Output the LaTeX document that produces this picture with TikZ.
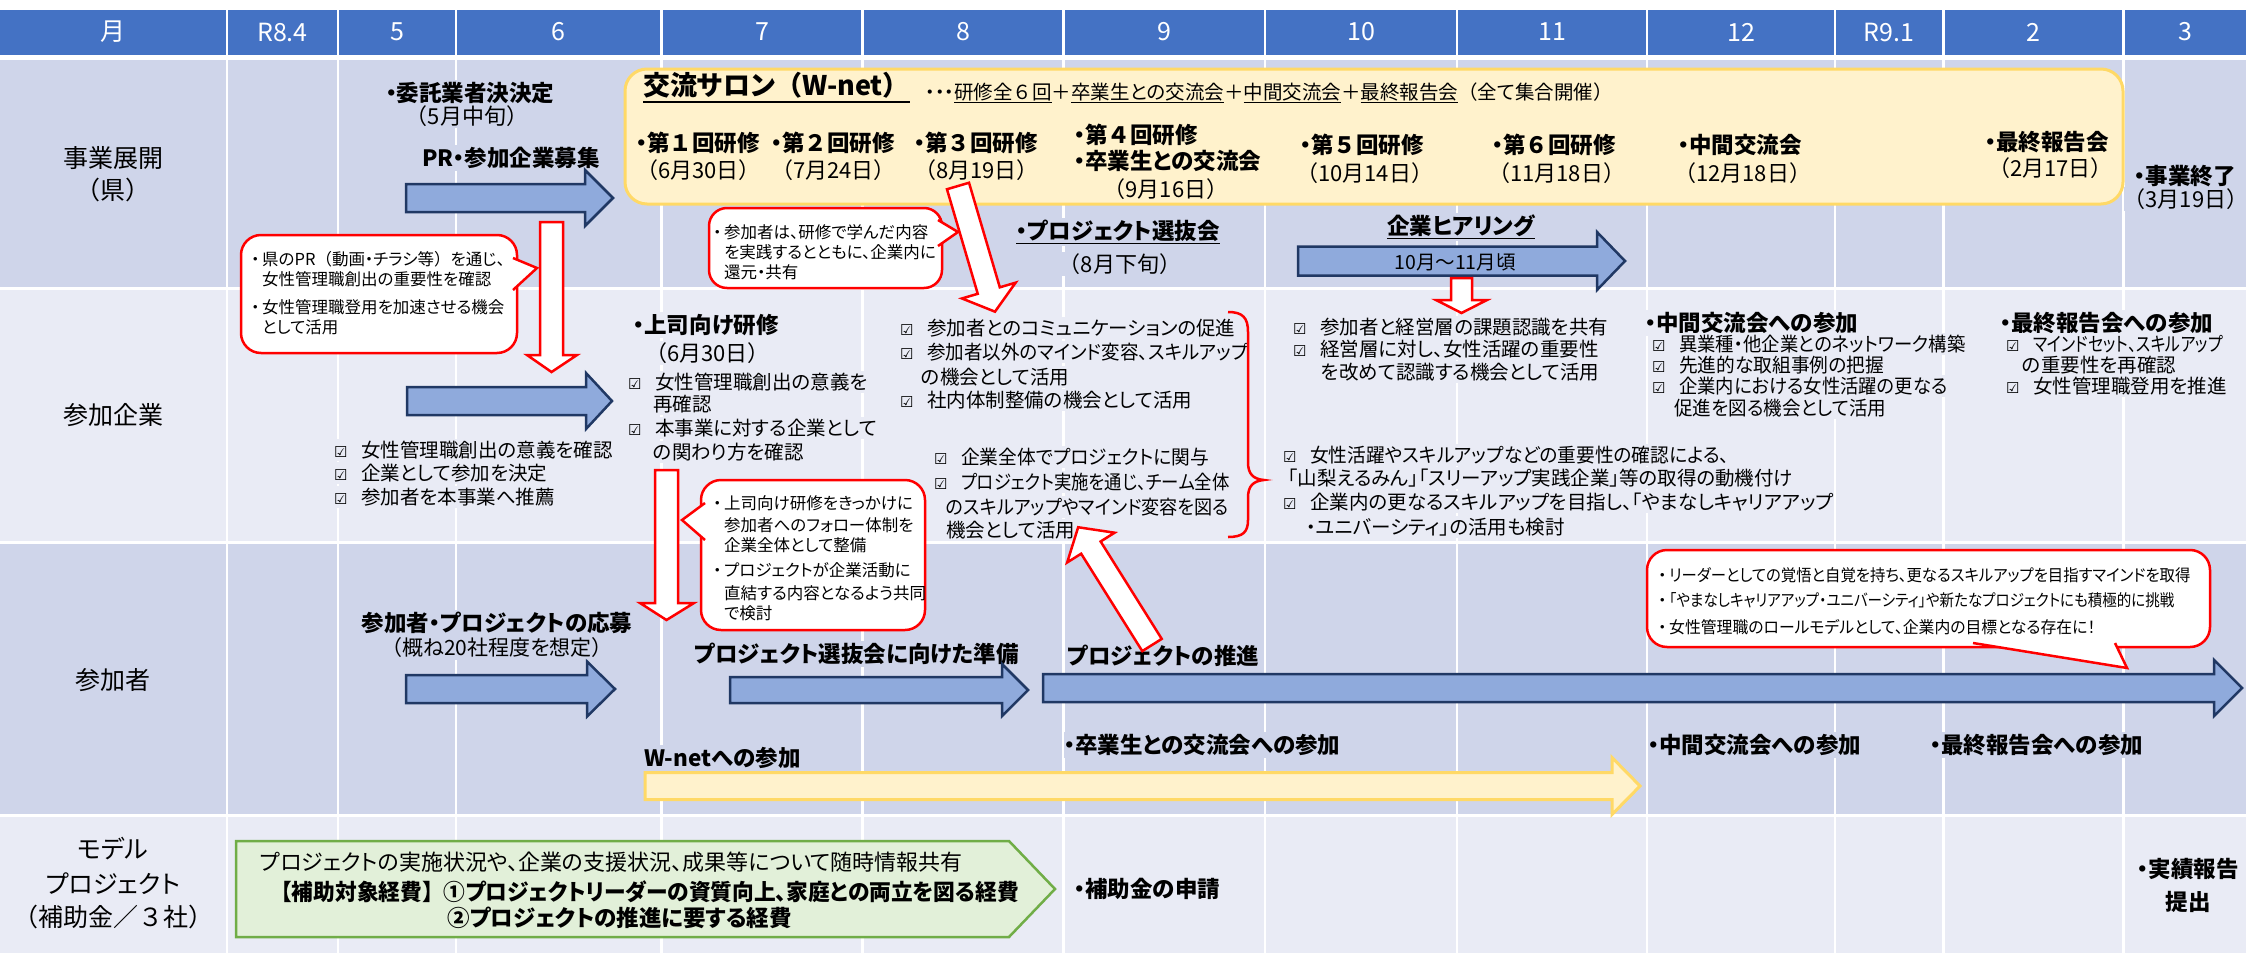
\documentclass[tikz,border=0pt]{standalone}
\usepackage{graphicx}
\usepackage{fontspec}
\setmainfont{Noto Sans CJK JP}[RawFeature={+palt}]
\newfontfamily\np{Noto Sans CJK JP}
\newfontfamily\dejavu{DejaVu Sans}
\usetikzlibrary{calc}
\definecolor{hdr}{HTML}{4472C4}
\definecolor{rowA}{HTML}{CFD5EA}
\definecolor{rowB}{HTML}{E9EBF5}
\definecolor{bfill}{HTML}{8FAADC}
\definecolor{bline}{HTML}{203864}
\definecolor{yfill}{HTML}{FFF2CC}
\definecolor{yline}{HTML}{FFD966}
\definecolor{gfill}{HTML}{E2F0D9}
\definecolor{gline}{HTML}{70AD47}
\definecolor{rd}{HTML}{FF0000}
\newcommand\fs[1]{\fontsize{#1}{#1}\selectfont}
\newcommand\ck{\makebox[27pt][l]{\dejavu\fs{15}☑}}
\newcommand\bul{\makebox[11pt][l]{・}}
\newcommand\LP{{\np （}}
\newcommand\RP{{\np ）}}
\newcommand\fw[1]{{\np #1}}
\newcommand\sx[2]{\scalebox{#1}[1]{#2}}
\newcounter{nc}
\newcommand\tn[4][]{\stepcounter{nc}\node[tx,#1] (n\arabic{nc}) at (#2,#3) {#4};}
\newcommand\harrow[7]{\draw[#1] (#2,#5-#6) -- (#3,#5-#6) -- (#3,#5-#7) -- (#4,#5) -- (#3,#5+#7) -- (#3,#5+#6) -- (#2,#5+#6) -- cycle;}
\tikzset{
  tx/.style={anchor=west, inner xsep=0pt, inner ysep=2pt, font=\fs{19.5}, text=black},
  bo/.style={font=\fs{22.5}\bfseries},
  dt/.style={font=\fs{22}},
  ctr/.style={anchor=center},
  fA/.style={fill=rowA},
  fB/.style={fill=rowB},
  cs/.style={font=\fs{16.5}},
  lab/.style={anchor=center, font=\fs{25}},
  barrowst/.style={fill=bfill, draw=bline, line width=2.5pt, line join=miter},
  yst/.style={fill=yfill, draw=yline, line width=3pt},
  rarrowst/.style={fill=white, draw=rd, line width=2.5pt, line join=miter},
  callst/.style={fill=white, draw=rd, line width=2.5pt, rounded corners=20pt},
}
\begin{document}
\begin{tikzpicture}[x=1pt,y=-1pt]
\useasboundingbox (0,0) rectangle (2246,953);
\fill[white] (0,0) rectangle (2246,953);
% grid cells
\foreach \l/\r in {0/226, 228/337, 339/455, 457/660, 663/861, 864/1062, 1065/1264, 1266/1456, 1458/1646, 1648/1834, 1836/1942, 1945/2122, 2125/2246}{
  \fill[hdr] (\l,10) rectangle (\r,55);
  \fill[rowA] (\l,60) rectangle (\r,287);
  \fill[rowB] (\l,290) rectangle (\r,541);
  \fill[rowA] (\l,544) rectangle (\r,814);
  \fill[rowB] (\l,817) rectangle (\r,953);
}
% header labels
\foreach \c/\t [count=\i] in {113/月, 282.5/R8.4, 397/5, 558.5/6, 762/7, 963/8, 1164.5/9, 1361/10, 1552/11, 1741/12, 1889/R9.1, 2033.5/2, 2185.5/3}{
  \node[font=\fs{25}, text=white] (h\i) at (\c,32) {\t};
}
% row labels
\node[lab] (r1a) at (113,158) {事業展開};
\node[lab] (r1b) at (113,190) {\LP 県\RP};
\node[lab] (r2) at (113,415) {参加企業};
\node[lab] (r3) at (113,680) {参加者};
\node[lab] (r4a) at (113,849) {モデル};
\node[lab] (r4b) at (113,884) {プロジェクト};
\node[lab] (r4c) at (113,917) {\LP 補助金／\fw{３}社\RP};

% ---------- row 1 free texts
\tn[ctr,bo,fA]{470}{93}{・委託業者決決定}
\tn[ctr,dt,fA]{467}{116}{\LP 5月中旬\RP}
\tn[ctr,bo,fA]{511}{158}{PR・参加企業募集}
\tn[ctr,bo,fA]{2185}{176}{・事業終了}
\tn[ctr,dt,fA]{2186}{199}{\LP 3月19日\RP}
\tn[ctr,bo,fA]{1118}{232}{\underline{・プロジェクト選抜会}}
\tn[ctr,dt,fA]{1120}{264}{\LP 8月下旬\RP}
\tn[ctr,bo,fA]{1461}{227}{\underline{企業ヒアリング}}

% ---------- row 2 texts
\tn[bo,fB]{633}{325}{・上司向け研修}
\tn[dt,fB]{645}{353}{\LP 6月30日\RP}
\tn[fB]{628}{382}{\ck 女性管理職創出の意義を}
\tn[fB]{653}{404}{再確認}
\tn[fB]{628}{428}{\ck 本事業に対する企業として}
\tn[fB]{653}{452}{の関わり方を確認}
\tn[fB]{334}{450}{\ck 女性管理職創出の意義を確認}
\tn[fB]{334}{473}{\ck 企業として参加を決定}
\tn[fB]{334}{497}{\ck 参加者を本事業へ推薦}
\tn[fB]{900}{328}{\ck 参加者とのコミュニケーションの促進}
\tn[fB]{900}{352}{\ck \sx{0.95}{参加者以外のマインド変容、スキルアップ}}
\tn[fB]{921}{377}{の機会として活用}
\tn[fB]{900}{400}{\ck 社内体制整備の機会として活用}
\tn[fB]{934}{457}{\ck \sx{0.96}{企業全体でプロジェクトに関与}}
\tn[fB]{934}{482}{\ck \sx{0.89}{プロジェクト実施を通じ、チーム全体}}
\tn[fB]{946}{507}{\sx{0.93}{のスキルアップやマインド変容を図る}}
\tn[fB]{946}{530}{機会として活用}
\tn[fB]{1293}{327}{\ck 参加者と経営層の課題認識を共有}
\tn[fB]{1293}{349}{\ck 経営層に対し、女性活躍の重要性}
\tn[fB]{1321}{372}{を改めて認識する機会として活用}
\tn[fB]{1283}{455}{\ck \sx{0.96}{女性活躍やスキルアップなどの重要性の確認による、}}
\tn[fB]{1288}{478}{「山梨えるみん」「スリーアップ実践企業」等の取得の動機付け}
\tn[fB]{1283}{502}{\ck 企業内の更なるスキルアップを目指し、「やまなしキャリアアップ}
\tn[fB]{1306}{527}{・ユニバーシティ」の活用も検討}
\tn[bo,fB]{1645}{323}{・中間交流会への参加}
\tn[fB]{1652}{344}{\ck \sx{0.94}{異業種・他企業とのネットワーク構築}}
\tn[fB]{1652}{365}{\ck \sx{0.96}{先進的な取組事例の把握}}
\tn[fB]{1652}{386}{\ck \sx{0.94}{企業内における女性活躍の更なる}}
\tn[fB]{1674}{408}{\sx{0.95}{促進を図る機会として活用}}
\tn[bo,fB]{2000}{323}{・最終報告会への参加}
\tn[fB]{2006}{344}{\ck \sx{0.82}{マインドセット、スキルアップ}}
\tn[fB]{2022}{365}{の重要性を再確認}
\tn[fB]{2006}{386}{\ck 女性管理職登用を推進}

% ---------- row 3 texts
\tn[ctr,bo,fA]{497}{623}{参加者・プロジェクトの応募}
\tn[ctr,font=\fs{21},fA]{497}{648}{\LP 概ね20社程度を想定\RP}
\tn[bo,fA]{694}{654}{プロジェクト選抜会に向けた準備}
\tn[bo,fA]{1067}{656}{プロジェクトの推進}
\tn[bo,fA]{644}{758}{W-netへの参加}
\tn[bo,fA]{1064}{745}{・卒業生との交流会への参加}
\tn[bo,fA]{1648}{745}{・中間交流会への参加}
\tn[bo,fA]{1930}{745}{・最終報告会への参加}

% ---------- row 4 texts
\tn[bo,fB]{1074}{889}{・補助金の申請}
\tn[ctr,bo,fB]{2188}{869}{・実績報告}
\tn[ctr,bo,fB]{2188}{902}{提出}

% ---------- shapes
\draw[yst, rounded corners=22pt] (625,69) rectangle (2123,204);
\harrow{barrowst}{406}{585}{613}{198}{14}{28}
\harrow{barrowst}{407}{586}{612}{401}{14}{28}
\harrow{barrowst}{406}{587}{615}{689}{14}{27.5}
\harrow{barrowst}{730}{1002}{1028}{690}{13}{26}
\harrow{barrowst}{1043}{2214}{2242}{688}{14}{28}
\harrow{barrowst}{1298}{1597}{1625}{261}{14.5}{29}
\harrow{yst}{645}{1612}{1640}{786}{13.5}{28.5}
\draw[fill=gfill, draw=gline, line width=2.5pt] (236,841) -- (1009,841) -- (1055,889) -- (1009,937) -- (236,937) -- cycle;

% texts inside shapes
\node[tx, font=\fs{27}\bfseries] (ttl) at (643,85) {交流サロン\LP W-net\RP};
\draw[line width=2pt] ([yshift=-2pt]ttl.south west) -- ([yshift=-2pt]ttl.south east);
\tn[font=\fs{19.5}]{925}{93}{・・・\underline{研修全\fw{６}回}＋\underline{卒業生との交流会}＋\underline{中間交流会}＋\underline{最終報告会}\LP 全て集合開催\RP}
\tn[bo]{636}{143}{・第\fw{１}回研修}
\tn[dt]{636}{170}{\LP 6月30日\RP}
\tn[bo]{771}{143}{・第\fw{２}回研修}
\tn[dt]{771}{170}{\LP 7月24日\RP}
\tn[bo]{914}{143}{・第\fw{３}回研修}
\tn[dt]{914}{170}{\LP 8月19日\RP}
\tn[bo]{1074}{135}{・第\fw{４}回研修}
\tn[bo]{1074}{161}{・卒業生との交流会}
\tn[ctr,dt]{1166}{189}{\LP 9月16日\RP}
\tn[bo]{1300}{145}{・第\fw{５}回研修}
\tn[dt]{1296}{173}{\LP 10月14日\RP}
\tn[bo]{1492}{145}{・第\fw{６}回研修}
\tn[dt]{1488}{173}{\LP 11月18日\RP}
\tn[bo]{1678}{145}{・中間交流会}
\tn[dt]{1674}{173}{\LP 12月18日\RP}
\tn[bo]{1985}{142}{・最終報告会}
\tn[dt]{1988}{168}{\LP 2月17日\RP}
\tn[ctr]{1455}{262}{10月～11月頃}
\tn[font=\fs{22}]{260}{862}{プロジェクトの実施状況や、企業の支援状況、成果等について随時情報共有}
\tn[bo]{270}{892}{\sx{0.965}{{\np 【}補助対象経費{\np 】}①プロジェクトリーダーの資質向上、家庭との両立を図る経費}}
\tn[bo]{447}{918}{②プロジェクトの推進に要する経費}

% ---------- red arrows
\draw[rarrowst] (540,222) -- (563,222) -- (563,355) -- (577,355) -- (551.5,372) -- (527,355) -- (540,355) -- cycle;
\draw[rarrowst] (655,470) -- (678,470) -- (678,603) -- (694,603) -- (666.5,620) -- (640,603) -- (655,603) -- cycle;
\draw[rarrowst] (1451,278) -- (1472,278) -- (1472,300) -- (1487,300) -- (1461.5,313) -- (1436,300) -- (1451,300) -- cycle;
\begin{scope}[shift={(958,186)}, rotate=-73.6]
  \draw[rarrowst] (0,-11.5) -- (109,-11.5) -- (109,-28) -- (131,0) -- (109,28) -- (109,11.5) -- (0,11.5) -- cycle;
\end{scope}
\begin{scope}[shift={(1152,645)}, rotate=122.1]
  \draw[rarrowst] (0,-11.5) -- (115,-11.5) -- (115,-28) -- (139,0) -- (115,28) -- (115,11.5) -- (0,11.5) -- cycle;
\end{scope}
% brace
\draw[rd, line width=2.5pt] (1228,312) .. controls (1243,312) and (1248,318) .. (1248,332) -- (1248,462) .. controls (1248,474) and (1253,479) .. (1264,480) .. controls (1253,481) and (1248,486) .. (1248,498) -- (1248,520) .. controls (1248,532) and (1243,537) .. (1228,537);

% ---------- callouts
\draw[callst] (241,235) rectangle (517,353);
\fill[white] (513,258) -- (537,268) -- (513,290) -- cycle;
\draw[rd, line width=2.5pt] (513,258) -- (537,268) -- (513,290);
\tn[cs]{251}{259}{\bul 県のPR\LP 動画・チラシ等\RP を通じ、}
\tn[cs]{262}{279}{女性管理職創出の重要性を確認}
\tn[cs]{251}{307}{\bul 女性管理職登用を加速させる機会}
\tn[cs]{262}{327}{として活用}

\draw[callst, rounded corners=18pt] (709,208) rectangle (942,288);
\fill[white] (938,220) -- (958,232) -- (938,246) -- cycle;
\draw[rd, line width=2.5pt] (938,220) -- (958,232) -- (938,246);
\tn[cs]{713}{232}{\bul 参加者は、研修で学んだ内容}
\tn[cs]{724}{252}{を実践するとともに、企業内に}
\tn[cs]{724}{272}{還元・共有}

\draw[callst] (701,480) rectangle (925,630);
\fill[white] (705,503) -- (682,520) -- (705,540) -- cycle;
\draw[rd, line width=2.5pt] (705,503) -- (682,520) -- (705,540);
\tn[cs]{713}{503}{\bul 上司向け研修をきっかけに}
\tn[cs]{724}{525}{参加者へのフォロー体制を}
\tn[cs]{724}{545}{企業全体として整備}
\tn[cs]{713}{570}{\bul プロジェクトが企業活動に}
\tn[cs]{724}{593}{直結する内容となるよう共同}
\tn[cs]{724}{613}{で検討}

\draw[callst] (1647,550) rectangle (2210,647);
\fill[white] (1973,643) -- (2127,668) -- (2115,643) -- cycle;
\draw[rd, line width=2.5pt] (1973,643) -- (2127,668) -- (2115,643);
\tn[cs]{1658}{575}{\bul \sx{0.93}{リーダーとしての覚悟と自覚を持ち、更なるスキルアップを目指すマインドを取得}}
\tn[cs]{1658}{600}{\bul\sx{0.88}{「やまなしキャリアアップ・ユニバーシティ」や新たなプロジェクトにも積極的に挑戦}}
\tn[cs]{1658}{627}{\bul \sx{0.96}{女性管理職のロールモデルとして、企業内の目標となる存在に！}}
\end{tikzpicture}
\end{document}
